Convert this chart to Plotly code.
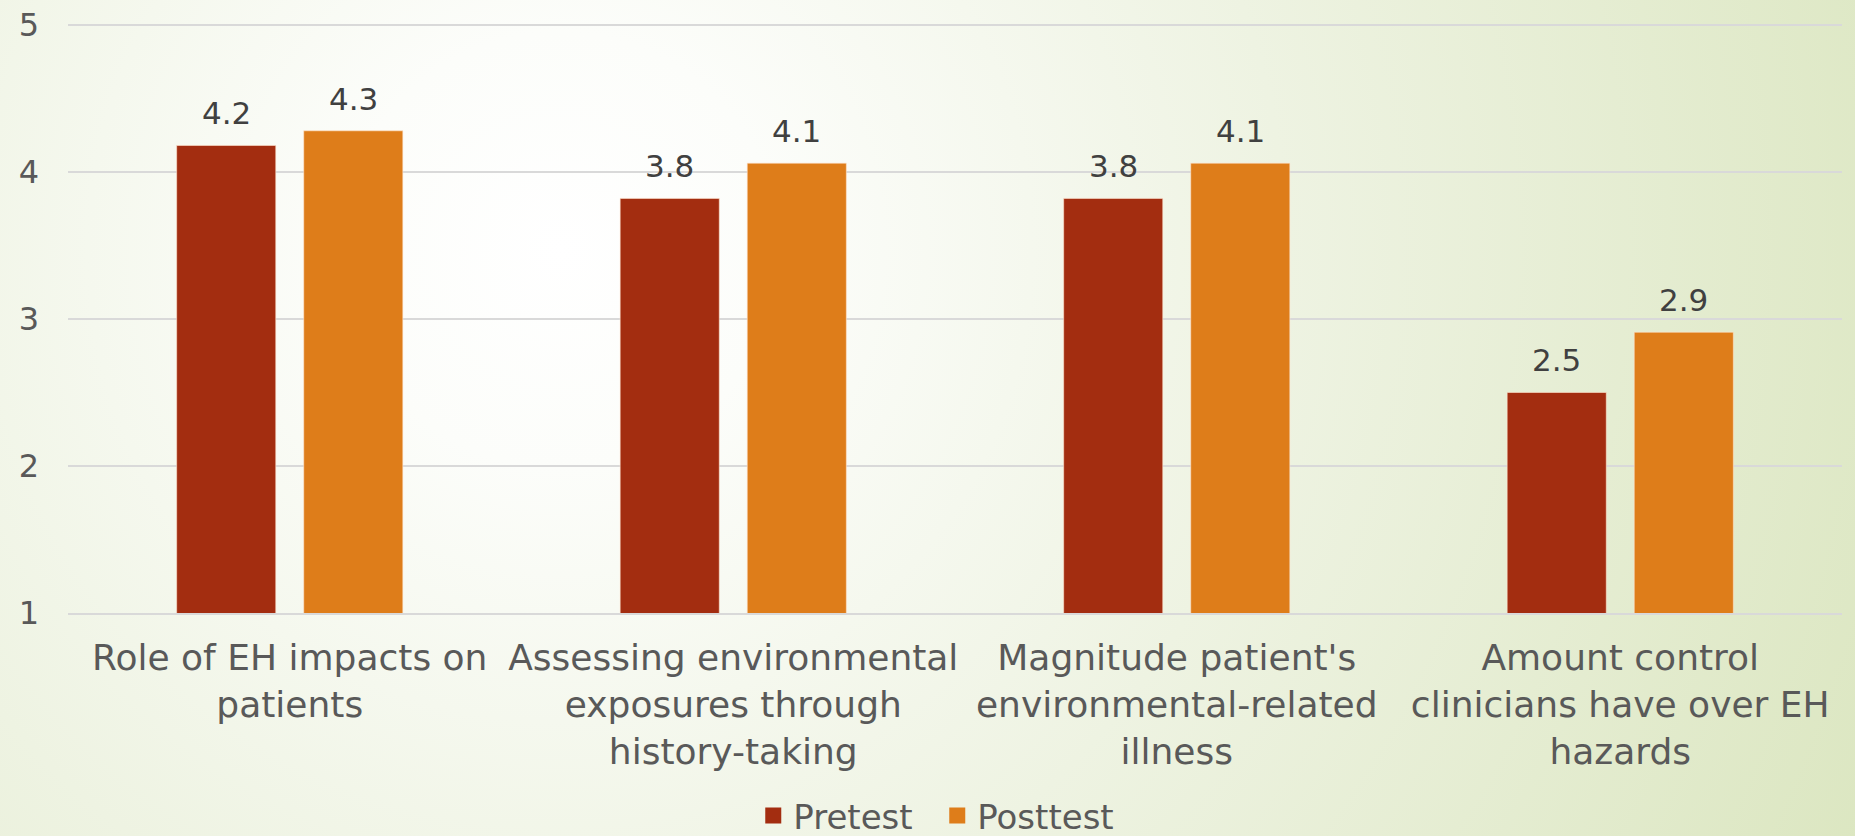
import base64
import plotly.graph_objects as go

categories = [
    "Role of EH impacts on<br>patients",
    "Assessing environmental<br>exposures through<br>history-taking",
    "Magnitude patient's<br>environmental-related<br>illness",
    "Amount control<br>clinicians have over EH<br>hazards",
]
pretest = [4.18, 3.82, 3.82, 2.50]
posttest = [4.28, 4.06, 4.06, 2.91]
series_names = ["Pretest", "Posttest"]
y_ticks = [1, 2, 3, 4, 5]

PRE_COLOR = "#A32D10"
POST_COLOR = "#DE7D1A"
FONT = "DejaVu Sans"

W, H = 1855, 836
ML, MR, MT, MB = 68, 13, 22, 223
PW, PH = W - ML - MR, H - MT - MB
BARGAP, GROUPGAP = 0.427, 0.22

svg = f'''<svg xmlns="http://www.w3.org/2000/svg" width="{W}" height="{H}" viewBox="0 0 {W} {H}">
<defs><radialGradient id="g" gradientUnits="userSpaceOnUse" cx="560" cy="250" r="1450">
<stop offset="0" stop-color="#ffffff"/>
<stop offset="0.15" stop-color="#fcfdfa"/>
<stop offset="0.5" stop-color="#eef3e2"/>
<stop offset="1" stop-color="#dbe6c0"/>
</radialGradient></defs>
<rect width="{W}" height="{H}" fill="url(#g)"/></svg>'''
bg_uri = "data:image/svg+xml;base64," + base64.b64encode(svg.encode()).decode()

fig = go.Figure()
series = [(series_names[0], pretest, PRE_COLOR), (series_names[1], posttest, POST_COLOR)]
for name, vals, col in series:
    fig.add_trace(go.Bar(
        x=categories, y=vals, name=name,
        marker=dict(color=col, line=dict(color="rgba(255,230,210,0.6)", width=1)),
        showlegend=False, hoverinfo="x+y+name",
    ))
    fig.add_trace(go.Scatter(
        x=[None], y=[None], mode="markers", name=name,
        marker=dict(symbol="square", size=20, color=col),
        showlegend=True,
    ))

# value labels above bars (offset within group follows the bar geometry)
slot_px = PW / len(categories) * (1 - BARGAP) / len(series)
annotations = []
for k, (name, vals, col) in enumerate(series):
    shift = (k - (len(series) - 1) / 2) * slot_px
    for cat, v in zip(categories, vals):
        annotations.append(dict(
            x=cat, y=v, xref="x", yref="y", text=f"{v:.1f}", showarrow=False,
            xanchor="center", yanchor="bottom", xshift=shift, yshift=12,
            font=dict(family=FONT, size=31, color="#404040"),
        ))

fig.update_layout(
    width=W, height=H,
    margin=dict(l=ML, r=MR, t=MT, b=MB, autoexpand=False),
    paper_bgcolor="#f3f6ea", plot_bgcolor="rgba(0,0,0,0)",
    barmode="group", bargap=BARGAP, bargroupgap=GROUPGAP,
    font=dict(family=FONT, color="#595959"),
    annotations=annotations,
    legend=dict(orientation="h", x=0.49, xanchor="center", y=-(MB + 9) / PH, yanchor="bottom",
                font=dict(family=FONT, size=34, color="#595959"), bgcolor="rgba(0,0,0,0)",
                itemsizing="trace", entrywidth=139, entrywidthmode="pixels"),
    images=[dict(source=bg_uri, xref="paper", yref="paper",
                 x=-ML / PW, y=1 + MT / PH, sizex=W / PW, sizey=H / PH,
                 xanchor="left", yanchor="top", sizing="stretch", layer="below")],
)
fig.update_xaxes(showgrid=False, showline=True, linecolor="#d9d9d9", linewidth=2,
                 ticks="", tickfont=dict(family=FONT, size=36, color="#595959"),
                 ticklabelstandoff=12, automargin=False)
fig.update_yaxes(range=[1, 5.02], tickvals=y_ticks, showgrid=True, gridcolor="#d9d9d9", gridwidth=2,
                 zeroline=False, showline=False, ticks="",
                 tickfont=dict(family=FONT, size=32, color="#595959"),
                 ticklabelstandoff=28, automargin=False)

fig.write_html("out.html", config={"displayModeBar": False},
               post_script="document.body.style.margin='0';document.body.style.overflow='hidden';")
